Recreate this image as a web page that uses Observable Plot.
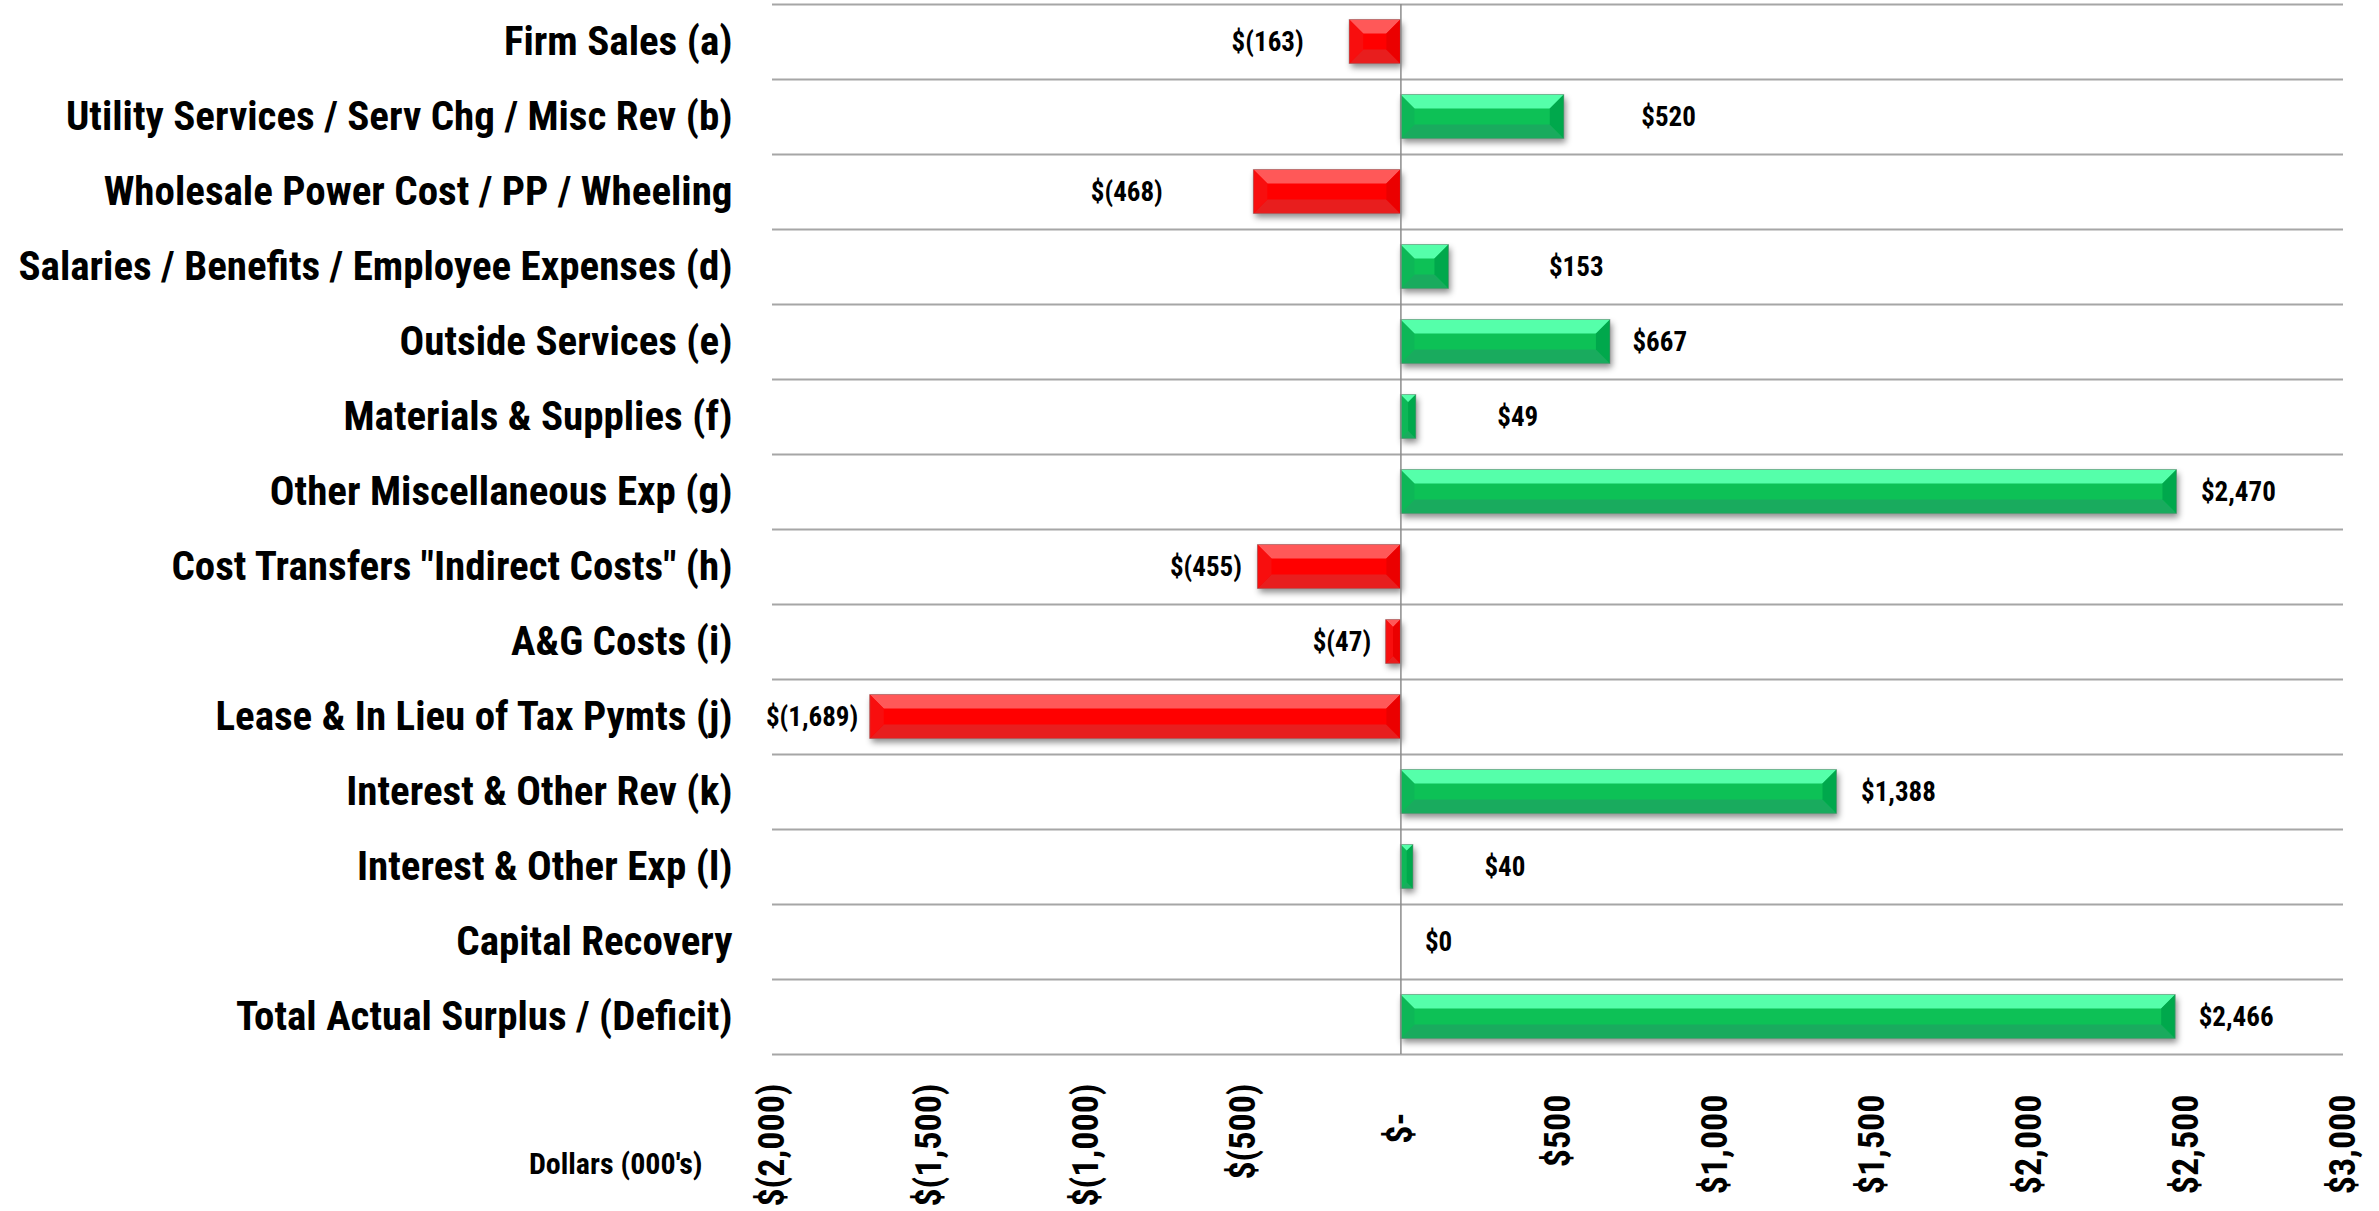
<!DOCTYPE html>
<html>
<head>
<meta charset="utf-8">
<script src="https://cdn.jsdelivr.net/npm/d3@7"></script>
<script src="https://cdn.jsdelivr.net/npm/@observablehq/plot@0.6"></script>
<style>
  html, body { margin: 0; padding: 0; background: #fff; }
  #chart svg { display: block; }
</style>
</head>
<body>
<div id="chart"></div>
<script>
// ---------- data ----------
const categories = [
  "Firm Sales (a)",
  "Utility Services / Serv Chg / Misc Rev (b)",
  "Wholesale Power Cost / PP / Wheeling",
  "Salaries / Benefits / Employee Expenses (d)",
  "Outside Services (e)",
  "Materials & Supplies (f)",
  "Other Miscellaneous Exp (g)",
  "Cost Transfers \"Indirect Costs\" (h)",
  "A&G Costs (i)",
  "Lease & In Lieu of Tax Pymts (j)",
  "Interest & Other Rev (k)",
  "Interest & Other Exp (l)",
  "Capital Recovery",
  "Total Actual Surplus / (Deficit)"
];
const values = [-163, 520, -468, 153, 667, 49, 2470, -455, -47, -1689, 1388, 40, 0, 2466];
const xTicks = [-2000, -1500, -1000, -500, 0, 500, 1000, 1500, 2000, 2500, 3000];
const axisTitle = "Dollars (000's)";

// ---------- style / layout ----------
const W = 2379, H = 1211;
const mt = 4, mb = 157, ml = 772, mr = 36;
const xDomain = [-2000, 3000];
const kx = (W - ml - mr) / (xDomain[1] - xDomain[0]);   // px per dollar unit
const ky = (H - mt - mb) / categories.length;            // px per band
const halfBar = 22 / ky;
const bevelMax = 14;
// gap (px) between bar end and its value label, as placed in the original
const labelGapPx = [46, 77, 91, 100, 22, 81, 24, 16, 15, 12, 24, 71, 24, 23];
const FONT = "'Liberation Sans Narrow', 'Arial Narrow', 'Roboto Condensed', 'DejaVu Sans Condensed', sans-serif";
const green = {top: "#55ffaa", mid: "#08c157", bot: "#19ab5e", left: "#0db757", right: "#00a84c"};
const red   = {top: "#ff5858", mid: "#ff0505", bot: "#e81e1e", left: "#f80e0e", right: "#eb0000"};

const fmt = d3.format(",");
const money = v => v < 0 ? `$(${fmt(-v)})` : `$${fmt(v)}`;
const tickMoney = v => v < 0 ? `$(${fmt(-v)})` : v === 0 ? "$-" : `$${fmt(v)}`;

// ---------- derived geometry (data units) ----------
const rows = values.map((v, i) => {
  const x0 = Math.min(0, v), x1 = Math.max(0, v);
  const wpx = (x1 - x0) * kx;
  const b = Math.min(bevelMax, wpx / 2);
  return {i, v, x0, x1, bx: b / kx, by: b / ky, yt: i - halfBar, yb: i + halfBar, c: v >= 0 ? green : red};
}).filter(d => d.v !== 0);

const topPts = rows.flatMap(d => [
  {id: d.i, y: d.yt, a: d.x0, c: d.x1, fill: d.c.top},
  {id: d.i, y: d.yt + d.by, a: d.x0 + d.bx, c: d.x1 - d.bx, fill: d.c.top}
]);
const botPts = rows.flatMap(d => [
  {id: d.i, y: d.yb - d.by, a: d.x0 + d.bx, c: d.x1 - d.bx, fill: d.c.bot},
  {id: d.i, y: d.yb, a: d.x0, c: d.x1, fill: d.c.bot}
]);
const leftPts = rows.flatMap(d => [
  {id: d.i, x: d.x0, a: d.yt, c: d.yb, fill: d.c.left},
  {id: d.i, x: d.x0 + d.bx, a: d.yt + d.by, c: d.yb - d.by, fill: d.c.left}
]);
const rightPts = rows.flatMap(d => [
  {id: d.i, x: d.x1 - d.bx, a: d.yt + d.by, c: d.yb - d.by, fill: d.c.right},
  {id: d.i, x: d.x1, a: d.yt, c: d.yb, fill: d.c.right}
]);

const labels = values.map((v, i) => ({i, v, text: money(v), gap: labelGapPx[i] / kx}));
const gridY = d3.range(categories.length + 1).map(i => i - 0.5);

const chart = Plot.plot({
  width: W,
  height: H,
  marginTop: mt, marginBottom: mb, marginLeft: ml, marginRight: mr,
  x: {domain: xDomain, axis: null},
  y: {domain: [categories.length - 0.5, -0.5], axis: null},
  color: {type: "identity"},
  style: {background: "#fff", overflow: "visible"},
  marks: [
    Plot.ruleY(gridY, {stroke: "#a6a6a6", strokeWidth: 2}),
    // bar body (with shadow)
    Plot.rect(rows, {x1: "x0", x2: "x1", y1: "yt", y2: "yb", fill: d => d.c.mid}),
    // bevel faces
    Plot.areaX(topPts, {y: "y", x1: "a", x2: "c", z: "id", fill: "fill"}),
    Plot.areaX(botPts, {y: "y", x1: "a", x2: "c", z: "id", fill: "fill"}),
    Plot.areaY(leftPts, {x: "x", y1: "a", y2: "c", z: "id", fill: "fill"}),
    Plot.areaY(rightPts, {x: "x", y1: "a", y2: "c", z: "id", fill: "fill"}),
    Plot.rect(rows, {x1: "x0", x2: "x1", y1: "yt", y2: "yb", fill: "none", stroke: "#808080", strokeOpacity: 0.5, strokeWidth: 1}),
    // zero line
    Plot.ruleX([0], {y1: -0.5, y2: categories.length - 0.5, stroke: "#8c8c8c", strokeWidth: 1.5}),
    // category labels
    Plot.text(categories, {
      y: (d, i) => i, text: d => d, frameAnchor: "left", textAnchor: "end", dx: -40,
      fontFamily: FONT, fontWeight: "bold", fontSize: 41, fill: "#000"
    }),
    // value labels
    Plot.text(labels.filter(d => d.v >= 0), {
      x: d => d.v + d.gap, y: "i", text: "text", textAnchor: "start",
      fontFamily: FONT, fontWeight: "bold", fontSize: 27, fill: "#000"
    }),
    Plot.text(labels.filter(d => d.v < 0), {
      x: d => d.v - d.gap, y: "i", text: "text", textAnchor: "end",
      fontFamily: FONT, fontWeight: "bold", fontSize: 27, fill: "#000"
    }),
    // x tick labels (rotated)
    ...[
      {f: v => v < 0, dy: 29},
      {f: v => v === 0, dy: 58},
      {f: v => v > 0, dy: 40}
    ].map(g => Plot.text(xTicks.filter(g.f), {
      x: d => d, text: tickMoney, frameAnchor: "bottom", rotate: -90,
      textAnchor: "end", lineAnchor: "middle", dy: g.dy,
      fontFamily: FONT, fontWeight: "bold", fontSize: 36, fill: "#000"
    })),
    // axis title
    Plot.text([axisTitle], {
      frameAnchor: "bottom-left", textAnchor: "end", dx: -70, dy: 119,
      fontFamily: FONT, fontWeight: "bold", fontSize: 30, fill: "#000"
    })
  ]
});

document.getElementById("chart").appendChild(chart);

// soft drop shadow under the bars
const svg = d3.select(chart);
svg.insert("defs", ":first-child").html(
  `<filter id="barShadow" filterUnits="userSpaceOnUse" x="0" y="0" width="${W}" height="${H}">
     <feDropShadow dx="2" dy="4" stdDeviation="3" flood-color="#000" flood-opacity="0.45"/>
   </filter>`
);
svg.select('g[aria-label="rect"]').attr("filter", "url(#barShadow)");
</script>
</body>
</html>
